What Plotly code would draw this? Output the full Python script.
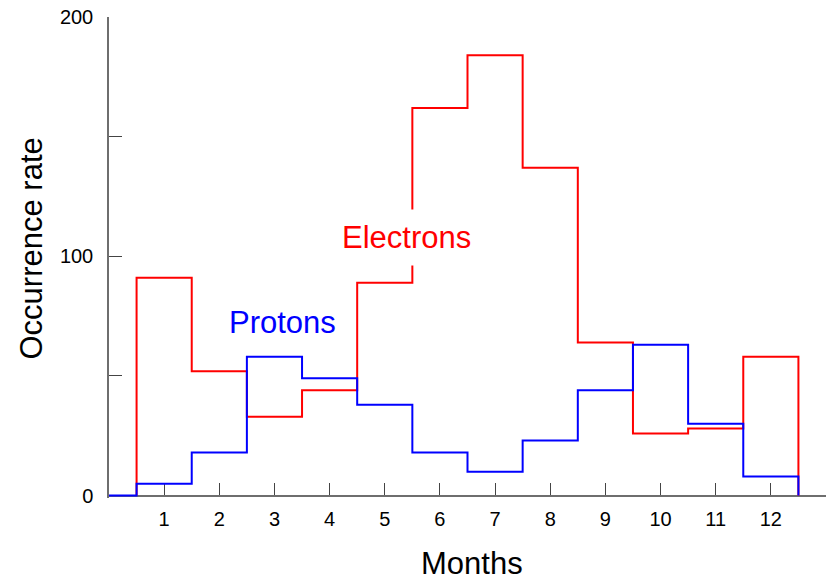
import plotly.graph_objects as go

# Monthly occurrence rates
months = list(range(1, 13))
electrons = [91, 52, 33, 44, 89, 162, 184, 137, 64, 26, 28, 58]
protons = [5, 18, 58, 49, 38, 18, 10, 23, 44, 63, 30, 8]
y_tick_vals = [0, 50, 100, 150, 200]
y_tick_text = ["0", "", "100", "", "200"]

# Step outlines: each month occupies [m - 0.5, m + 0.5]
left_edges = [m - 0.5 for m in months]
ex = [0.5] + left_edges + [12.5]
ey = [0] + electrons + [0]
px_ = [0] + left_edges + [12.5]
py_ = [0] + protons + [0]

FONT = "Arial, Liberation Sans, sans-serif"
AXIS_COLOR = "#6e6e6e"

fig = go.Figure()
fig.add_trace(go.Scatter(x=ex, y=ey, mode="lines", line_shape="hv",
                         line=dict(color="#ff0000", width=2), name="Electrons"))
fig.add_trace(go.Scatter(x=px_, y=py_, mode="lines", line_shape="hv",
                         line=dict(color="#0000ff", width=2), name="Protons"))

y_lo = -1
L, R, T, B = 109, 6, 17, 82
W, H = 832, 580
pw, ph = W - L - R, H - T - B

fig.update_layout(
    width=W, height=H,
    margin=dict(l=L, r=R, t=T, b=B),
    paper_bgcolor="white", plot_bgcolor="white",
    showlegend=False,
    font=dict(family=FONT, color="black"),
    xaxis=dict(
        range=[0, 13], tickvals=months,
        ticks="inside", ticklen=12, tickwidth=1.3, tickcolor="#444",
        showline=True, linecolor=AXIS_COLOR, linewidth=1.5,
        showgrid=False, zeroline=False,
        tickfont=dict(size=20, color="black", family=FONT),
        ticklabelstandoff=6,
        anchor="free", position=(0 - y_lo) / (200 - y_lo),
        layer="below traces",
    ),
    yaxis=dict(
        range=[y_lo, 200], tickvals=y_tick_vals, ticktext=y_tick_text,
        ticks="inside", ticklen=13, tickwidth=1.3, tickcolor="#444",
        showline=True, linecolor=AXIS_COLOR, linewidth=1.5,
        showgrid=False, zeroline=False,
        tickfont=dict(size=20, color="black", family=FONT),
        ticklabelstandoff=10,
        layer="below traces",
    ),
    annotations=[
        dict(text="Electrons", x=5.39, y=108, xref="x", yref="y",
             xanchor="center", yanchor="middle",
             showarrow=False, font=dict(size=31, color="#ff0000", family=FONT),
             bgcolor="white", borderpad=10),
        dict(text="Protons", x=3.14, y=72.3, xref="x", yref="y",
             xanchor="center", yanchor="middle",
             showarrow=False, font=dict(size=31, color="#0000ff", family=FONT),
             bgcolor="white", borderpad=4),
        dict(text="Occurrence rate", x=(30.5 - L) / pw, y=(H - B - 249) / ph,
             xref="paper", yref="paper", xanchor="center", yanchor="middle",
             showarrow=False, textangle=-90,
             font=dict(size=31, color="black", family=FONT)),
        dict(text="Months", x=(472 - L) / pw, y=(H - B - 563) / ph,
             xref="paper", yref="paper", xanchor="center", yanchor="middle",
             showarrow=False,
             font=dict(size=31, color="black", family=FONT)),
    ],
)

fig.write_html("out.html")
